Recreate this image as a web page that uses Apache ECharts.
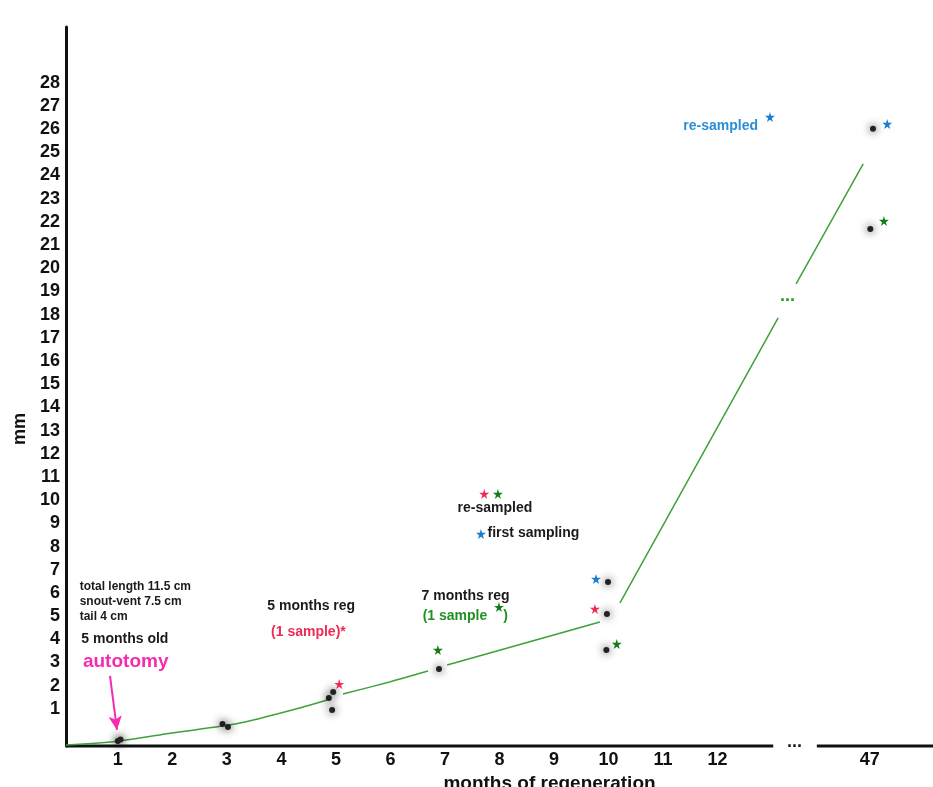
<!DOCTYPE html>
<html>
<head>
<meta charset="utf-8">
<script src="https://cdn.jsdelivr.net/npm/echarts@6/dist/echarts.min.js"></script>
<style>
html, body { margin: 0; padding: 0; background: #fff; }
#chart { width: 933px; height: 787px; }
</style>
</head>
<body>
<div id="chart"></div>
<script>
// x values are slots on the drawn axis: months 1..12, then the "..." break, then 47
const xTickValues = [1, 2, 3, 4, 5, 6, 7, 8, 9, 10, 11, 12, 14.79]
const xTickLabels = ['1', '2', '3', '4', '5', '6', '7', '8', '9', '10', '11', '12', '47']
const yTickValues = [1, 2, 3, 4, 5, 6, 7, 8, 9, 10, 11, 12, 13, 14, 15, 16, 17, 18, 19, 20,
  21, 22, 23, 24, 25, 26, 27, 28]

// regenerated tail length (slot, mm)
const samples = [
  [1.0, -0.38], [1.05, -0.32],
  [2.92, 0.35], [3.02, 0.22],
  [4.87, 1.47], [4.95, 1.73], [4.93, 0.95],
  [6.89, 2.72],
  [9.99, 6.47], [9.97, 5.09], [9.96, 3.54],
  [14.85, 26.01], [14.8, 21.69],
]

// green trend, '-' breaks the line
const trend = [
  [0.05, -0.56], [1.04, -0.38], [1.99, -0.04], [3.24, 0.39], [4.34, 1.04], [4.84, 1.38],
  [5.0, '-'],
  [5.13, 1.64], [6.0, 2.17], [6.69, 2.63],
  [6.9, '-'],
  [7.04, 2.89], [9.84, 4.75],
  [10.0, '-'],
  [10.21, 5.57], [13.11, 17.86],
  [13.3, '-'],
  [13.44, 19.32], [14.67, 24.5],
]

// sample markers
const redStars = [[5.06, 2.07], [9.75, 5.31], [7.72, 10.27]]
const greenStars = [[6.87, 3.54], [10.15, 3.8], [15.05, 22.04], [7.97, 10.27], [7.99, 5.39]]
const blueStars = [[9.77, 6.6], [15.11, 26.22], [7.66, 8.54], [12.96, 26.52]]

// x axis drawn in two pieces round the break
const xAxisLine = [[0.05, -0.6], [13.02, -0.6], [13.4, '-'], [13.82, -0.6], [15.95, -0.6]]

const arrow = [[0.857, 2.42], [0.985, 0.09]]

const FONT = '"Liberation Sans", Arial, Helvetica, sans-serif'
const MAGENTA = '#f52bb0'
const RED = '#ee2b53'
const GREEN_TXT = '#219021'
const GREEN_STAR = '#147c14'
const BLUE = '#2a8ed6'
const BLUE_STAR = '#1c7ccf'
const STAR = 'path://M50,0 L61,35 L98,35 L68,57 L79,91 L50,70 L21,91 L32,57 L2,35 L39,35 Z'

const notes = [
  { text: 'total length 11.5 cm\nsnout-vent 7.5 cm\ntail 4 cm', at: [0.31, 5.61], size: 12, color: '#1a1a1a' },
  { text: '5 months old', at: [0.34, 3.97], size: 14, color: '#1a1a1a' },
  { text: 'autotomy', at: [0.37, 3.02], size: 19, color: MAGENTA },
  { text: '5 months reg', at: [3.75, 5.39], size: 14, color: '#1a1a1a' },
  { text: '(1 sample)*', at: [3.82, 4.27], size: 14, color: RED },
  { text: '7 months reg', at: [6.58, 5.83], size: 14, color: '#1a1a1a' },
  { text: '(1 sample', at: [6.6, 4.96], size: 14, color: GREEN_TXT },
  { text: ')', at: [8.08, 4.96], size: 14, color: GREEN_TXT },
  { text: 're-sampled', at: [7.24, 9.62], size: 14, color: '#1a1a1a' },
  { text: 'first sampling', at: [7.79, 8.54], size: 14, color: '#1a1a1a' },
  { text: 're-sampled', at: [11.38, 26.09], size: 14, color: BLUE },
  { text: '...', at: [13.42, -0.43], size: 18, color: '#1a1a1a', align: 'center' },
  { text: '...', at: [13.29, 18.8], size: 18, color: '#2a9a2a', align: 'center' },
]

const chart = echarts.init(document.getElementById('chart'))

function starSeries(name, data, color) {
  return {
    name: name,
    type: 'scatter',
    symbol: STAR,
    symbolSize: 10,
    clip: false,
    silent: true,
    itemStyle: { color: color, opacity: 1 },
    data: data,
    z: 4,
  }
}

chart.setOption({
  animation: false,
  backgroundColor: '#fff',
  textStyle: { fontFamily: FONT },
  grid: { left: 66, right: 0, top: 27, bottom: 41, outerBoundsMode: 'none', containLabel: false },
  xAxis: {
    type: 'value',
    min: 0.05,
    max: 15.95,
    splitLine: { show: false },
    axisLine: { show: false },
    axisTick: { show: false },
    axisLabel: {
      customValues: xTickValues,
      formatter: v => xTickLabels[xTickValues.indexOf(v)],
      margin: 5,
      color: '#111',
      fontSize: 18,
      fontWeight: 'bold',
      fontFamily: FONT,
    },
    name: 'months of regeneration',
    nameLocation: 'middle',
    nameGap: 22,
    nameTextStyle: {
      color: '#111',
      fontSize: 19,
      fontWeight: 'bold',
      fontFamily: FONT,
      padding: [0, 0, 0, 100],
    },
  },
  yAxis: {
    type: 'value',
    min: -0.6,
    max: 30.4,
    splitLine: { show: false },
    axisLine: { show: true, lineStyle: { color: '#111', width: 3 } },
    axisTick: { show: false },
    axisLabel: {
      customValues: yTickValues,
      margin: 6,
      color: '#111',
      fontSize: 18,
      fontWeight: 'bold',
      fontFamily: FONT,
    },
    name: 'mm',
    nameLocation: 'middle',
    nameRotate: 90,
    nameGap: 34,
    nameTextStyle: {
      color: '#111',
      fontSize: 18,
      fontWeight: 'bold',
      fontFamily: FONT,
      padding: [0, 85, 0, 0],
    },
  },
  series: [
    {
      name: 'axis',
      type: 'line',
      data: xAxisLine,
      showSymbol: false,
      clip: false,
      silent: true,
      lineStyle: { color: '#111', width: 3 },
      z: 1,
    },
    {
      name: 'trend',
      type: 'line',
      data: trend,
      smooth: 0.3,
      showSymbol: false,
      connectNulls: false,
      silent: true,
      lineStyle: { color: '#3da23a', width: 1.5 },
      z: 2,
    },
    {
      name: 'samples',
      type: 'scatter',
      data: samples,
      symbolSize: 6,
      clip: false,
      silent: true,
      itemStyle: { color: '#222', opacity: 1, shadowBlur: 9, shadowColor: 'rgba(0,0,0,0.9)' },
      z: 3,
    },
    starSeries('red', redStars, RED),
    starSeries('green', greenStars, GREEN_STAR),
    starSeries('blue', blueStars, BLUE_STAR),
    {
      name: 'notes',
      type: 'scatter',
      symbolSize: 1,
      clip: false,
      silent: true,
      itemStyle: { color: 'rgba(0,0,0,0)', opacity: 1 },
      label: {
        show: true,
        position: [0, 0],
        verticalAlign: 'middle',
        fontWeight: 'bold',
        fontFamily: FONT,
        opacity: 1,
      },
      data: notes.map(n => ({
        value: n.at,
        label: {
          formatter: n.text,
          color: n.color,
          fontSize: n.size,
          align: n.align || 'left',
          lineHeight: n.size === 12 ? 15 : n.size + 4,
        },
      })),
      markLine: {
        silent: true,
        symbol: ['none', 'arrow'],
        symbolSize: [10, 14],
        label: { show: false },
        lineStyle: { color: MAGENTA, width: 2, type: 'solid', opacity: 1 },
        data: [[{ coord: arrow[0] }, { coord: arrow[1] }]],
      },
      z: 5,
    },
  ],
})
</script>
</body>
</html>
